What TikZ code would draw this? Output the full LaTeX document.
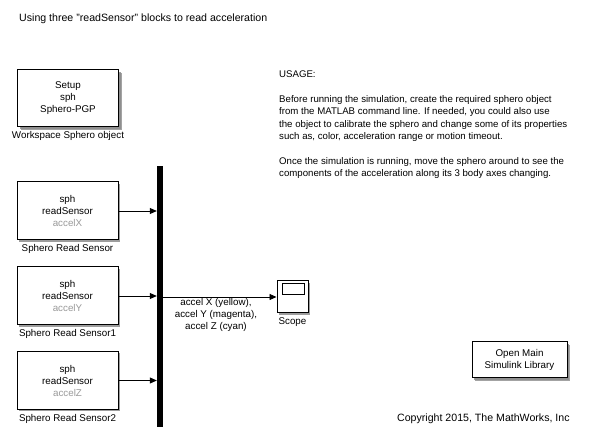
\documentclass[tikz,border=0pt]{standalone}
\usepackage{fontspec}
\setmainfont{Liberation Sans}
\usetikzlibrary{arrows.meta,shadows}

\begin{document}
\begin{tikzpicture}[x=1pt, y=-1pt,
	every node/.style={font=\fontsize{9.8}{12}\selectfont, inner sep=0pt},
	block/.style={draw, line width=1pt, fill=white, align=center,
		drop shadow={shadow xshift=2pt, shadow yshift=-2pt, fill=black!55, opacity=0.7}},
	bigshadow/.style={drop shadow={shadow xshift=3pt, shadow yshift=-3pt, fill=black!45, opacity=0.8}},
	blocklabel/.style={below=4pt},
	sig/.style={line width=0.8pt, -{Triangle[length=7pt, width=6pt]}},
	note/.style={font=\fontsize{10.6}{12}\selectfont}]
\useasboundingbox (0, 0) rectangle (606, 438);

% title
\node[note, anchor=west] (title) at (19, 19) {Using three "readSensor" blocks to read acceleration};

% setup block
\node[block, bigshadow, minimum width=101, minimum height=57] (setup) at (68, 98.5)
	{Setup\\sph\\Sphero-PGP};
\node[blocklabel] (setuplabel) at (setup.south) {Workspace Sphero object};

% sensor blocks
\node[block, minimum width=101, minimum height=58] (sensorX) at (67.5, 211)
	{sph\\readSensor\\\textcolor{black!40}{accelX}};
\node[blocklabel] (sensorXlabel) at (sensorX.south) {Sphero Read Sensor};

\node[block, minimum width=101, minimum height=58] (sensorY) at (67.5, 296)
	{sph\\readSensor\\\textcolor{black!40}{accelY}};
\node[blocklabel] (sensorYlabel) at (sensorY.south) {Sphero Read Sensor1};

\node[block, minimum width=101, minimum height=58] (sensorZ) at (67.5, 380.5)
	{sph\\readSensor\\\textcolor{black!40}{accelZ}};
\node[blocklabel] (sensorZlabel) at (sensorZ.south) {Sphero Read Sensor2};

% bus
\node[fill=black, minimum width=6, minimum height=261] (bus) at (160, 296.5) {};

\draw[sig] (sensorX.east) -- (sensorX.east -| bus.west);
\draw[sig] (sensorY.east) -- (sensorY.east -| bus.west);
\draw[sig] (sensorZ.east) -- (sensorZ.east -| bus.west);

% scope
\node[block, minimum width=31, minimum height=32] (scope) at (292.5, 297) {};
\draw[line width=0.8pt] ([shift={(6, 3)}]scope.north west) rectangle ([shift={(-4, 14)}]scope.north east);
\node[blocklabel] (scopelabel) at (scope.south) {Scope};

\draw[sig] (bus.east |- scope.west) -- (scope.west);
\node[align=center, anchor=north] (buslabel) at (216, 298)
	{accel X (yellow),\\accel Y (magenta),\\accel Z (cyan)};

% notes
\node[anchor=north west, align=left, font=\fontsize{9.65}{12.3}\selectfont] (usage) at (279, 71)
	{USAGE:\\[12.3pt]
	Before running the simulation, create the required sphero object\\
	from the MATLAB command line. If needed, you could also use\\
	the object to calibrate the sphero and change some of its properties\\
	such as, color, acceleration range or motion timeout.\\[12.3pt]
	Once the simulation is running, move the sphero around to see the\\
	components of the acceleration along its 3 body axes changing.};

\node[block, bigshadow, minimum width=95, minimum height=36] (library) at (519.5, 360)
	{Open Main\\Simulink Library};

\node[note, anchor=west] (copyright) at (397, 419) {Copyright 2015, The MathWorks, Inc};
\end{tikzpicture}
\end{document}
